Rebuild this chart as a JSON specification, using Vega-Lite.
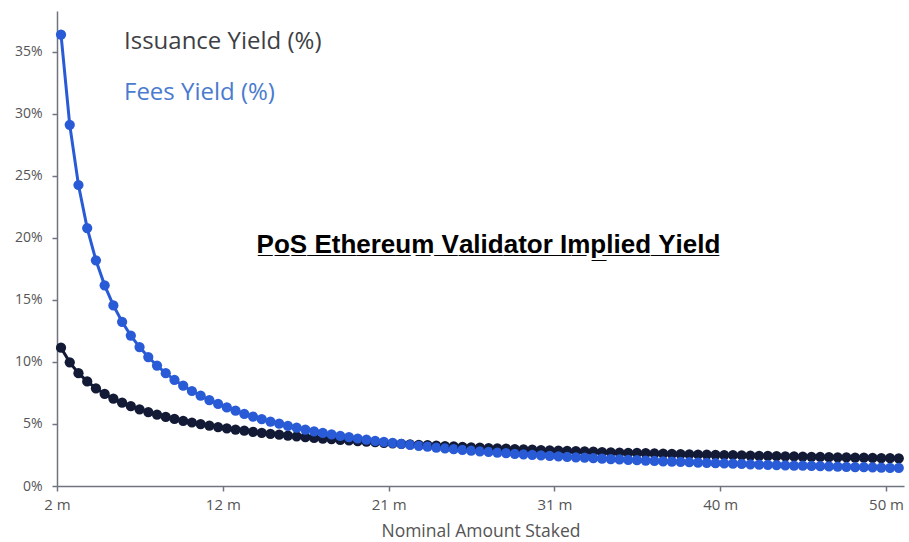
{
  "$schema": "https://vega.github.io/schema/vega-lite/v6.json",
  "autosize": {"type": "none"},
  "width": 847,
  "height": 475,
  "padding": {"left": 57, "top": 11, "right": 5, "bottom": 56},
  "background": "white",
  "title": {
    "text": "P\u0332o\u0332S\u0332 \u0332E\u0332t\u0332h\u0332e\u0332r\u0332e\u0332u\u0332m\u0332 \u0332V\u0332a\u0332l\u0332i\u0332d\u0332a\u0332t\u0332o\u0332r\u0332 \u0332I\u0332m\u0332p\u0332l\u0332i\u0332e\u0332d\u0332 \u0332Y\u0332i\u0332e\u0332l\u0332d\u0332",
    "orient": "top",
    "anchor": "middle",
    "offset": -247,
    "dx": 8,
    "font": "Liberation Sans",
    "fontSize": 26,
    "fontWeight": "bold",
    "color": "#000000"
  },
  "data": {
    "values": [
      {"x": 2, "issuance": 11.15, "fees": 36.40},
      {"x": 2.5, "issuance": 9.97, "fees": 29.12},
      {"x": 3, "issuance": 9.10, "fees": 24.27},
      {"x": 3.5, "issuance": 8.43, "fees": 20.80},
      {"x": 4, "issuance": 7.88, "fees": 18.20},
      {"x": 4.5, "issuance": 7.43, "fees": 16.18},
      {"x": 5, "issuance": 7.05, "fees": 14.56},
      {"x": 5.5, "issuance": 6.72, "fees": 13.24},
      {"x": 6, "issuance": 6.44, "fees": 12.13},
      {"x": 6.5, "issuance": 6.18, "fees": 11.20},
      {"x": 7, "issuance": 5.96, "fees": 10.40},
      {"x": 7.5, "issuance": 5.76, "fees": 9.71},
      {"x": 8, "issuance": 5.57, "fees": 9.10},
      {"x": 8.5, "issuance": 5.41, "fees": 8.56},
      {"x": 9, "issuance": 5.26, "fees": 8.09},
      {"x": 9.5, "issuance": 5.12, "fees": 7.66},
      {"x": 10, "issuance": 4.99, "fees": 7.28},
      {"x": 10.5, "issuance": 4.87, "fees": 6.93},
      {"x": 11, "issuance": 4.75, "fees": 6.62},
      {"x": 11.5, "issuance": 4.65, "fees": 6.33},
      {"x": 12, "issuance": 4.55, "fees": 6.07},
      {"x": 12.5, "issuance": 4.46, "fees": 5.82},
      {"x": 13, "issuance": 4.37, "fees": 5.60},
      {"x": 13.5, "issuance": 4.29, "fees": 5.39},
      {"x": 14, "issuance": 4.21, "fees": 5.20},
      {"x": 14.5, "issuance": 4.14, "fees": 5.02},
      {"x": 15, "issuance": 4.07, "fees": 4.85},
      {"x": 15.5, "issuance": 4.01, "fees": 4.70},
      {"x": 16, "issuance": 3.94, "fees": 4.55},
      {"x": 16.5, "issuance": 3.88, "fees": 4.41},
      {"x": 17, "issuance": 3.82, "fees": 4.28},
      {"x": 17.5, "issuance": 3.77, "fees": 4.16},
      {"x": 18, "issuance": 3.72, "fees": 4.04},
      {"x": 18.5, "issuance": 3.67, "fees": 3.94},
      {"x": 19, "issuance": 3.62, "fees": 3.83},
      {"x": 19.5, "issuance": 3.57, "fees": 3.73},
      {"x": 20, "issuance": 3.53, "fees": 3.64},
      {"x": 20.5, "issuance": 3.48, "fees": 3.55},
      {"x": 21, "issuance": 3.44, "fees": 3.47},
      {"x": 21.5, "issuance": 3.40, "fees": 3.39},
      {"x": 22, "issuance": 3.36, "fees": 3.31},
      {"x": 22.5, "issuance": 3.32, "fees": 3.24},
      {"x": 23, "issuance": 3.29, "fees": 3.17},
      {"x": 23.5, "issuance": 3.25, "fees": 3.10},
      {"x": 24, "issuance": 3.22, "fees": 3.03},
      {"x": 24.5, "issuance": 3.19, "fees": 2.97},
      {"x": 25, "issuance": 3.15, "fees": 2.91},
      {"x": 25.5, "issuance": 3.12, "fees": 2.85},
      {"x": 26, "issuance": 3.09, "fees": 2.80},
      {"x": 26.5, "issuance": 3.06, "fees": 2.75},
      {"x": 27, "issuance": 3.03, "fees": 2.70},
      {"x": 27.5, "issuance": 3.01, "fees": 2.65},
      {"x": 28, "issuance": 2.98, "fees": 2.60},
      {"x": 28.5, "issuance": 2.95, "fees": 2.55},
      {"x": 29, "issuance": 2.93, "fees": 2.51},
      {"x": 29.5, "issuance": 2.90, "fees": 2.47},
      {"x": 30, "issuance": 2.88, "fees": 2.43},
      {"x": 30.5, "issuance": 2.86, "fees": 2.39},
      {"x": 31, "issuance": 2.83, "fees": 2.35},
      {"x": 31.5, "issuance": 2.81, "fees": 2.31},
      {"x": 32, "issuance": 2.79, "fees": 2.28},
      {"x": 32.5, "issuance": 2.77, "fees": 2.24},
      {"x": 33, "issuance": 2.74, "fees": 2.21},
      {"x": 33.5, "issuance": 2.72, "fees": 2.17},
      {"x": 34, "issuance": 2.70, "fees": 2.14},
      {"x": 34.5, "issuance": 2.68, "fees": 2.11},
      {"x": 35, "issuance": 2.67, "fees": 2.08},
      {"x": 35.5, "issuance": 2.65, "fees": 2.05},
      {"x": 36, "issuance": 2.63, "fees": 2.02},
      {"x": 36.5, "issuance": 2.61, "fees": 1.99},
      {"x": 37, "issuance": 2.59, "fees": 1.97},
      {"x": 37.5, "issuance": 2.57, "fees": 1.94},
      {"x": 38, "issuance": 2.56, "fees": 1.92},
      {"x": 38.5, "issuance": 2.54, "fees": 1.89},
      {"x": 39, "issuance": 2.52, "fees": 1.87},
      {"x": 39.5, "issuance": 2.51, "fees": 1.84},
      {"x": 40, "issuance": 2.49, "fees": 1.82},
      {"x": 40.5, "issuance": 2.48, "fees": 1.80},
      {"x": 41, "issuance": 2.46, "fees": 1.78},
      {"x": 41.5, "issuance": 2.45, "fees": 1.75},
      {"x": 42, "issuance": 2.43, "fees": 1.73},
      {"x": 42.5, "issuance": 2.42, "fees": 1.71},
      {"x": 43, "issuance": 2.40, "fees": 1.69},
      {"x": 43.5, "issuance": 2.39, "fees": 1.67},
      {"x": 44, "issuance": 2.38, "fees": 1.65},
      {"x": 44.5, "issuance": 2.36, "fees": 1.64},
      {"x": 45, "issuance": 2.35, "fees": 1.62},
      {"x": 45.5, "issuance": 2.34, "fees": 1.60},
      {"x": 46, "issuance": 2.32, "fees": 1.58},
      {"x": 46.5, "issuance": 2.31, "fees": 1.57},
      {"x": 47, "issuance": 2.30, "fees": 1.55},
      {"x": 47.5, "issuance": 2.29, "fees": 1.53},
      {"x": 48, "issuance": 2.28, "fees": 1.52},
      {"x": 48.5, "issuance": 2.26, "fees": 1.50},
      {"x": 49, "issuance": 2.25, "fees": 1.49},
      {"x": 49.5, "issuance": 2.24, "fees": 1.47},
      {"x": 50, "issuance": 2.23, "fees": 1.46}
    ]
  },
  "transform": [
    {"fold": ["issuance", "fees"], "as": ["series", "value"]}
  ],
  "mark": {
    "type": "line",
    "strokeWidth": 3,
    "point": {"filled": true, "size": 105, "opacity": 1}
  },
  "encoding": {
    "x": {
      "field": "x",
      "type": "quantitative",
      "scale": {"domain": [1.77, 50.3], "nice": false, "zero": false},
      "axis": {
        "title": "Nominal Amount Staked",
        "values": [1.77, 11.27, 20.77, 30.27, 39.77, 49.27],
        "labelExpr": "['2 m','12 m','21 m','31 m','40 m','50 m'][indexof([1.77,11.27,20.77,30.27,39.77,49.27], datum.value)]",
        "grid": false,
        "domainColor": "#6f7480",
        "domainWidth": 1.5,
        "tickColor": "#6f7480",
        "tickWidth": 1.5,
        "tickSize": 5,
        "labelPadding": 6,
        "labelFont": "Open Sans",
        "labelFontSize": 15,
        "labelColor": "#555555",
        "labelFlush": false,
        "labelOverlap": false,
        "titleFont": "Open Sans",
        "titleFontSize": 17.5,
        "titleFontWeight": "normal",
        "titleColor": "#555555",
        "titlePadding": 10
      }
    },
    "y": {
      "field": "value",
      "type": "quantitative",
      "scale": {"domain": [0, 38.3], "nice": false},
      "axis": {
        "title": null,
        "values": [0, 5, 10, 15, 20, 25, 30, 35],
        "labelExpr": "datum.value + '%'",
        "grid": false,
        "domainColor": "#6f7480",
        "domainWidth": 1.5,
        "tickColor": "#6f7480",
        "tickWidth": 1.5,
        "tickSize": 5,
        "labelPadding": 10,
        "labelFont": "Open Sans",
        "labelFontSize": 14,
        "labelColor": "#555555"
      }
    },
    "color": {
      "field": "series",
      "type": "nominal",
      "scale": {"domain": ["issuance", "fees"], "range": ["#121a36", "#2a5bd6"]},
      "legend": {
        "title": null,
        "orient": "none",
        "legendX": 43,
        "legendY": 19,
        "padding": 0,
        "symbolSize": 0,
        "symbolOpacity": 0,
        "symbolStrokeWidth": 0,
        "labelOffset": 0,
        "labelFont": "Open Sans",
        "labelFontSize": 24,
        "labelLimit": 400,
        "rowPadding": 27,
        "labelExpr": "datum.value == 'issuance' ? 'Issuance Yield (%)' : 'Fees Yield (%)'",
        "encode": {
          "labels": {
            "update": {
              "fill": {"signal": "datum.value == 'issuance' ? '#3d3f45' : '#4a7bd0'"}
            }
          }
        }
      }
    }
  },
  "config": {
    "view": {"stroke": null}
  }
}
